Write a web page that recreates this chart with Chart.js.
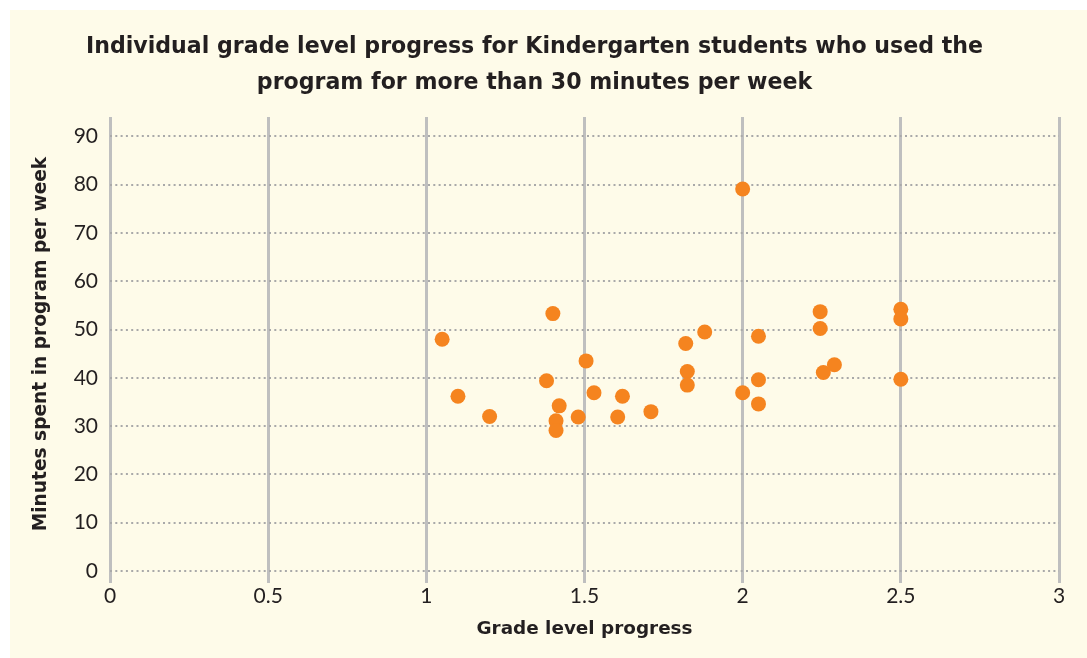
<!DOCTYPE html>
<html>
<head>
<meta charset="utf-8">
<style>
  html, body { margin: 0; padding: 0; background: #ffffff; }
  #wrap { width: 1087px; height: 658px; }
</style>
<script src="https://cdn.jsdelivr.net/npm/chart.js@4.4.1/dist/chart.umd.min.js"></script>
</head>
<body>
<div id="wrap"><canvas id="myChart" width="1087" height="658"></canvas></div>
<script>
// grade level progress (x) and minutes per week (y), one entry per student
const gradeProgress = [1.05, 1.10, 1.20, 1.38, 1.40, 1.41, 1.41, 1.42, 1.48, 1.505,
  1.53, 1.605, 1.62, 1.71, 1.82, 1.825, 1.825, 1.88, 2.0, 2.0,
  2.05, 2.05, 2.05, 2.245, 2.245, 2.255, 2.29, 2.5, 2.5, 2.5];
const minutesPerWeek = [48, 36.2, 32, 39.4, 53.3, 31.1, 29.1, 34.2, 31.9, 43.5,
  36.9, 31.9, 36.2, 33, 47.1, 41.3, 38.5, 49.5, 79.1, 36.9,
  48.6, 39.6, 34.6, 53.7, 50.2, 41.1, 42.7, 54.2, 52.2, 39.7];
const xTicks = [0, 0.5, 1, 1.5, 2, 2.5, 3];
const xTickLabels = ["0", "0.5", "1", "1.5", "2", "2.5", "3"];
const yTicks = [0, 10, 20, 30, 40, 50, 60, 70, 80, 90];

const chartTitle = ["Individual grade level progress for Kindergarten students who used the",
  "program for more than 30 minutes per week"];

const points = gradeProgress.map((g, i) => ({ x: g, y: minutesPerWeek[i] }));

const textColor = "#231f20";
const tickFont = "Lato, 'Noto Sans', sans-serif";
const boldFont = "'DejaVu Sans', sans-serif";

// cream panel behind everything
const panelBg = {
  id: "panelBg",
  beforeDraw(chart) {
    const ctx = chart.ctx;
    ctx.save();
    ctx.fillStyle = "#fefbe9";
    ctx.fillRect(10, 10, chart.width - 10, chart.height - 10);
    ctx.restore();
  }
};

new Chart("myChart", {
  type: "scatter",
  data: {
    datasets: [{
      data: points,
      backgroundColor: "#f5841f",
      pointRadius: 7.5,
      pointHoverRadius: 7.5,
      pointBorderWidth: 0
    }]
  },
  plugins: [panelBg],
  options: {
    responsive: false,
    animation: false,
    layout: { padding: { left: 10, right: 28, top: 10, bottom: 10 } },
    plugins: {
      legend: { display: false },
      tooltip: { enabled: false },
      title: {
        display: true,
        text: chartTitle,
        color: textColor,
        font: { family: boldFont, size: 22.1, weight: "bold", lineHeight: 1.63 },
        padding: { top: 19, bottom: 16 }
      }
    },
    scales: {
      x: {
        type: "linear",
        min: 0,
        max: 3,
        afterBuildTicks(scale) { scale.ticks = xTicks.map(v => ({ value: v })); },
        afterFit(scale) { scale.height = 77; },
        ticks: {
          color: textColor,
          font: { family: tickFont, size: 21 },
          padding: 1,
          maxRotation: 0,
          callback: (v, i) => xTickLabels[i]
        },
        grid: { color: "#bfbfbf", lineWidth: 3, tickLength: 12 },
        border: { display: false },
        title: {
          display: true,
          text: "Grade level progress",
          color: textColor,
          font: { family: boldFont, size: 18.4, weight: "bold" },
          padding: { top: 0, bottom: 8 }
        }
      },
      y: {
        type: "linear",
        min: 0,
        max: 94,
        afterBuildTicks(scale) { scale.ticks = yTicks.map(v => ({ value: v })); },
        afterFit(scale) { scale.width = 100; },
        ticks: {
          color: textColor,
          font: { family: tickFont, size: 21 },
          padding: 12
        },
        grid: { color: "#a9a9a9", lineWidth: 2, drawTicks: false },
        border: { display: false, dash: [2, 3.3] },
        title: {
          display: true,
          text: "Minutes spent in program per week",
          color: textColor,
          font: { family: boldFont, size: 18.6, weight: "bold" },
          padding: { top: 20, bottom: 0 }
        }
      }
    }
  }
});
</script>
</body>
</html>
